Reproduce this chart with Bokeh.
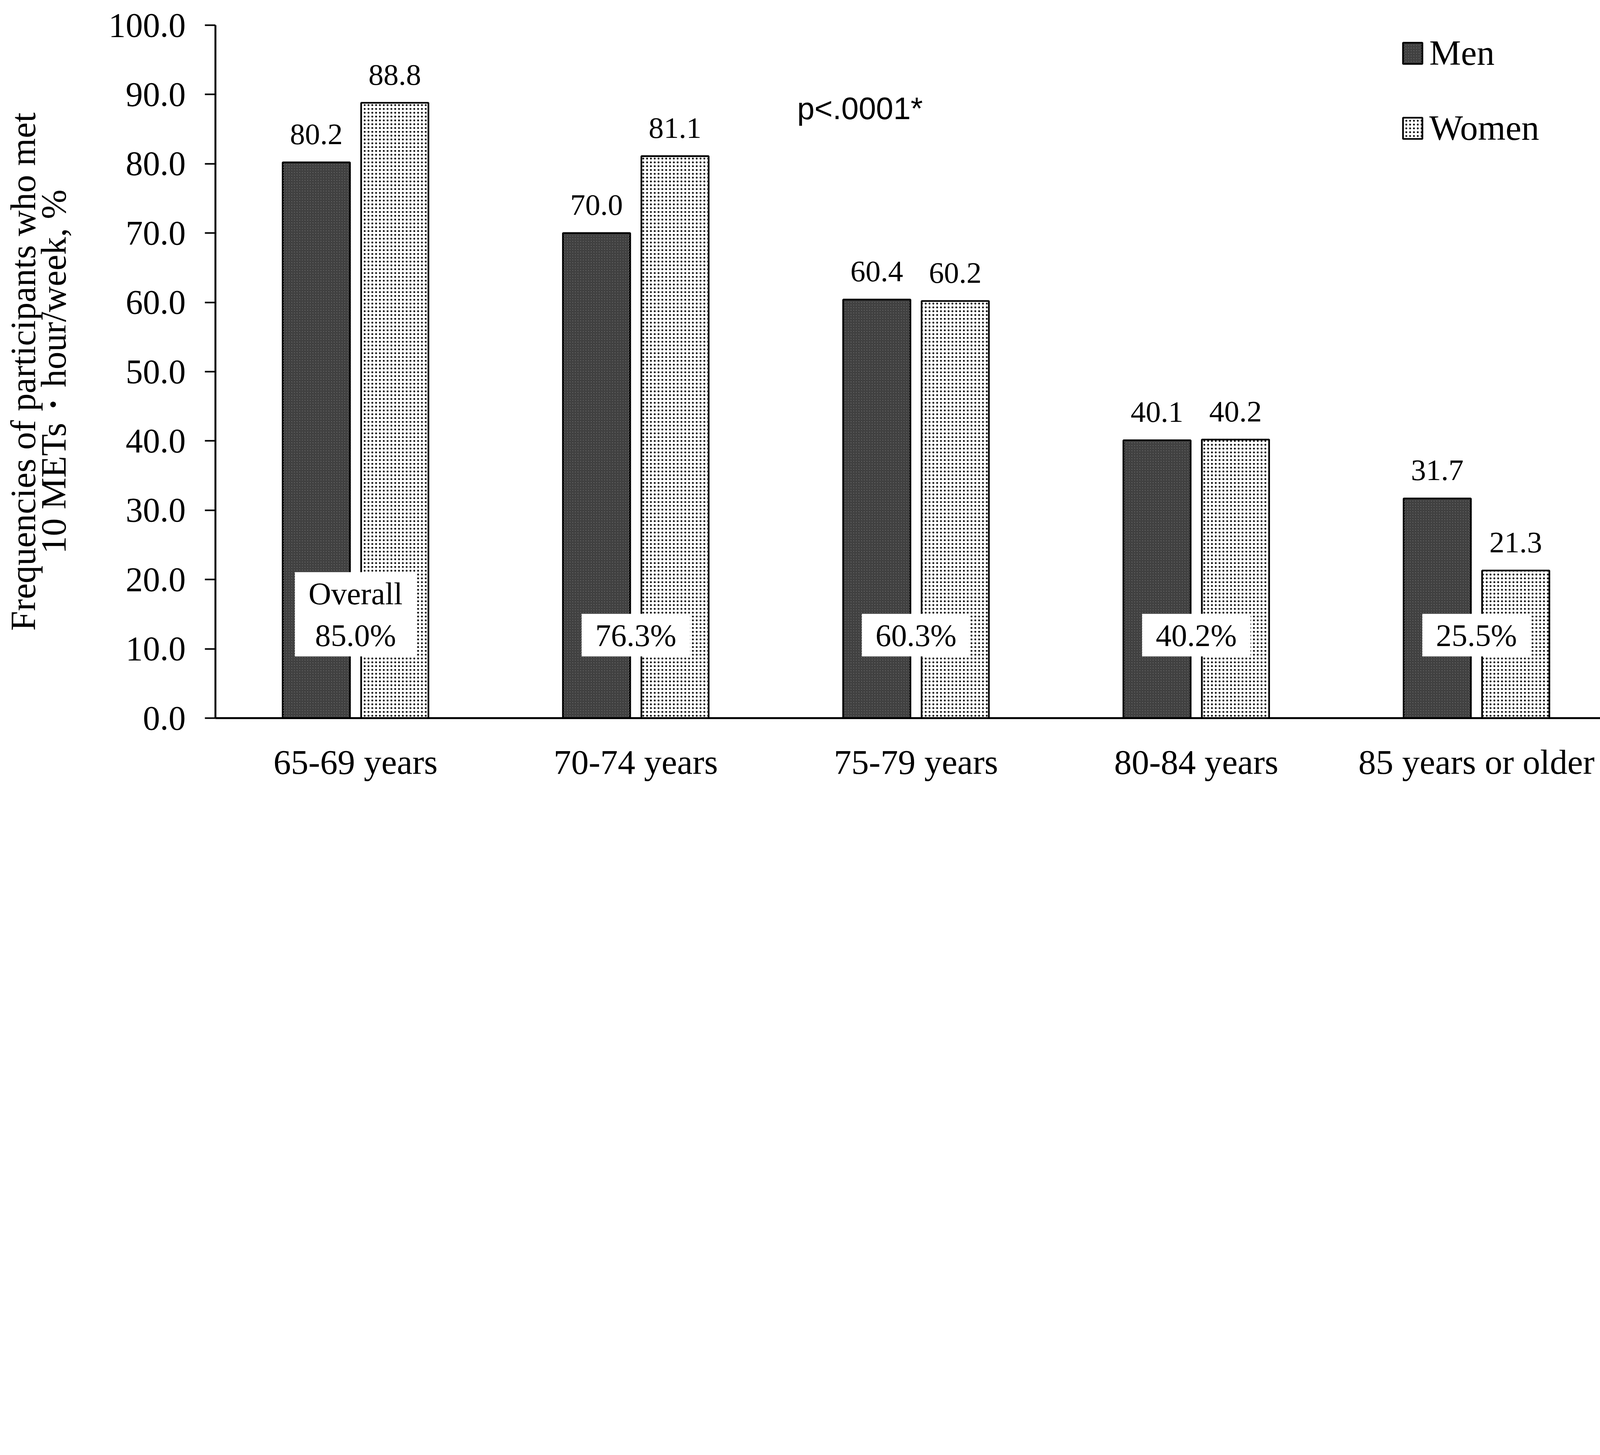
from bokeh.plotting import figure
from bokeh.models import (FactorRange, Range1d, FixedTicker, NumeralTickFormatter,
                          ColumnDataSource, Label)
from bokeh.transform import dodge
from bokeh.core.properties import value
from bokeh.embed import file_html
from bokeh.resources import INLINE

# ---- data ----
categories = ["65-69 years", "70-74 years", "75-79 years", "80-84 years", "85 years or older"]
men = [80.2, 70.0, 60.4, 40.1, 31.7]
women = [88.8, 81.1, 60.2, 40.2, 21.3]
overall = ["Overall\n85.0%", "76.3%", "60.3%", "40.2%", "25.5%"]
series = ["Men", "Women"]
y_ticks = [0, 10, 20, 30, 40, 50, 60, 70, 80, 90, 100]
p_value_text = "p<.0001*"
y_title = "Frequencies of participants who met\n10 METs\u30fbhour/week, %"

SERIF = "Liberation Serif"
SANS = "Liberation Sans"

# layout scale (all pixel sizes are designed for a 7664 px wide figure)
S = 4160 / 7664


def px(v):
    return max(1, int(round(v * S)))


def fs(v):
    return f"{v * S:.1f}px"


source = ColumnDataSource(dict(
    cat=categories,
    men=men,
    women=women,
    men_lbl=[f"{v:.1f}" for v in men],
    women_lbl=[f"{v:.1f}" for v in women],
    overall=overall,
))

W, H = px(7664), px(3709)
p = figure(width=W, height=H, output_backend="svg", toolbar_location=None,
           x_range=FactorRange(factors=categories), y_range=Range1d(0, 100),
           min_border_left=px(1016), min_border_right=px(41), min_border_top=px(117),
           min_border_bottom=px(322))
p.outline_line_color = None
p.xgrid.grid_line_color = None
p.ygrid.grid_line_color = None
p.background_fill_color = "white"
p.border_fill_color = "white"

OFF = 0.14
BW = 0.24
bar_style = dict(line_color="black", line_width=8 * S, fill_color="white", hatch_color="black")

p.vbar(x=dodge("cat", -OFF, range=p.x_range), top="men", width=BW, source=source,
       hatch_pattern="/", hatch_scale=12.5 * S, hatch_weight=4.2 * S,
       legend_label=series[0], **bar_style)
p.vbar(x=dodge("cat", OFF, range=p.x_range), top="women", width=BW, source=source,
       hatch_pattern=".", hatch_scale=18 * S, hatch_weight=3 * S,
       legend_label=series[1], **bar_style)

lbl_style = dict(text_align="center", text_baseline="alphabetic", y_offset=-132 * S,
                 text_font=value(SERIF), text_font_size=fs(142), text_color="black", source=source)
p.text(x=dodge("cat", -OFF, range=p.x_range), y="men", text="men_lbl", **lbl_style)
p.text(x=dodge("cat", OFF, range=p.x_range), y="women", text="women_lbl", **lbl_style)

p.text(x="cat", y=8.9, text="overall", source=source, text_align="center", text_baseline="bottom",
       text_font=value(SERIF), text_font_size=fs(148), text_color="black",
       background_fill_color="white", border_line_color=None,
       padding=dict(left=px(65), right=px(65), top=px(18), bottom=px(18)))

p.add_layout(Label(x=2.30, y=88, text=p_value_text, text_align="center", text_baseline="middle",
                   text_font=SANS, text_font_size=fs(147), text_color="black"))

# axes
p.yaxis.ticker = FixedTicker(ticks=y_ticks)
p.yaxis.formatter = NumeralTickFormatter(format="0.0")
p.yaxis.minor_tick_line_color = None
p.yaxis.major_tick_in = 0
p.yaxis.major_tick_out = px(50)
p.yaxis.major_tick_line_width = 7 * S
p.yaxis.major_tick_line_color = "black"
p.yaxis.axis_line_width = 9 * S
p.yaxis.major_label_standoff = px(90)
p.yaxis.axis_label = y_title
p.yaxis.axis_label_standoff = px(160)
p.yaxis.axis_label_text_font = SERIF
p.yaxis.axis_label_text_font_size = fs(168)
p.yaxis.axis_label_text_font_style = "normal"
p.yaxis.axis_label_text_line_height = 0.77
p.yaxis.axis_label_text_color = "black"

p.xaxis.major_tick_line_color = None
p.xaxis.minor_tick_line_color = None
p.xaxis.major_tick_out = 0
p.xaxis.major_tick_in = 0
p.xaxis.axis_line_width = 9 * S
p.xaxis.major_label_standoff = px(115)

for ax in (p.xaxis, p.yaxis):
    ax.major_label_text_font = SERIF
    ax.major_label_text_color = "black"
    ax.axis_line_color = "black"
p.yaxis.major_label_text_font_size = fs(162)
p.xaxis.major_label_text_font_size = fs(165)

leg = p.legend[0]
leg.location = (px(5590), px(2687))
leg.border_line_color = None
leg.background_fill_alpha = 0
leg.padding = 0
leg.margin = 0
leg.glyph_width = px(115)
leg.glyph_height = px(125)
leg.label_height = px(125)
leg.label_standoff = px(22)
leg.spacing = px(160)
leg.label_text_font = SERIF
leg.label_text_font_size = fs(168)
leg.label_text_color = "black"

open("out.html", "w").write(file_html(p, INLINE))
